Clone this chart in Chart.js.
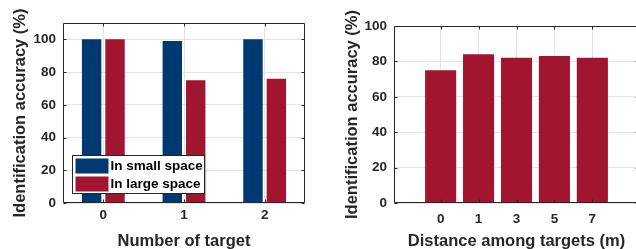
<!DOCTYPE html>
<html>
<head>
<meta charset="utf-8">
<script src="https://cdn.jsdelivr.net/npm/chart.js@4.4.1/dist/chart.umd.min.js"></script>
<style>
  html, body { margin: 0; padding: 0; background: #fff; overflow: hidden; }
  .box { position: absolute; top: 0; height: 249px; }
</style>
</head>
<body>
<div class="box" style="left:0;width:318px"><canvas id="targetChart"></canvas></div>
<div class="box" style="left:318px;width:322px"><canvas id="distChart"></canvas></div>
<script>
// left chart data
const targetLabels = ['0', '1', '2'];
const smallSpace = [100, 99, 100];
const largeSpace = [100, 75, 76];
// right chart data
const distLabels = ['0', '1', '3', '5', '7'];
const distAcc = [75, 84, 82, 83, 82];
const yTicks = [0, 20, 40, 60, 80, 100];

const BLUE = 'rgb(0,57,114)';
const RED = 'rgb(162,21,48)';
const INK = '#262626';
const GRID = '#e4e4e4';
const FONT = "'Liberation Sans', Arial, sans-serif";

// MATLAB-ish box with inward ticks
const frame = {
  id: 'frame',
  afterDatasetsDraw(chart) {
    const { ctx, chartArea: a, scales: { x, y } } = chart;
    const L = Math.round(a.left) + 0.5, R = Math.round(a.right) - 0.5;
    const T = Math.round(a.top) + 0.5, B = Math.round(a.bottom) - 0.5;
    ctx.save();
    ctx.strokeStyle = INK;
    ctx.lineWidth = 1;
    ctx.beginPath();
    ctx.rect(L, T, R - L, B - T);
    x.ticks.forEach((t, i) => {
      const px = Math.round(x.getPixelForTick(i)) + 0.5;
      ctx.moveTo(px, T); ctx.lineTo(px, T + 3);
      ctx.moveTo(px, B); ctx.lineTo(px, B - 3);
    });
    y.ticks.forEach((t, i) => {
      const py = Math.round(y.getPixelForTick(i)) + 0.5;
      ctx.moveTo(L, py); ctx.lineTo(L + 3, py);
      ctx.moveTo(R, py); ctx.lineTo(R - 3, py);
    });
    ctx.stroke();
    ctx.restore();
  }
};

// legend drawn inside the plot, bottom-left
const boxLegend = {
  id: 'boxLegend',
  afterDraw(chart) {
    if (!chart.options.plugins.boxLegend) return;
    const { ctx, chartArea: a } = chart;
    const x0 = a.left + 9.5, y0 = a.bottom - 47.5;
    ctx.save();
    ctx.fillStyle = '#fff';
    ctx.fillRect(x0, y0, 132, 38);
    ctx.strokeStyle = INK;
    ctx.lineWidth = 1;
    ctx.strokeRect(x0, y0, 132, 38);
    ctx.font = 'bold 13.5px ' + FONT;
    ctx.textBaseline = 'middle';
    chart.data.datasets.forEach((ds, i) => {
      const ry = y0 + 3 + i * 18;
      ctx.fillStyle = ds.backgroundColor;
      ctx.fillRect(x0 + 3, ry, 33, 15);
      ctx.fillStyle = '#000';
      ctx.fillText(ds.label, x0 + 38, ry + 8);
    });
    ctx.restore();
  }
};

function yScale(max, titlePad, width) {
  return {
    min: 0, max: max,
    afterBuildTicks: s => { s.ticks = yTicks.map(v => ({ value: v })); },
    afterFit: s => { s.width = width; },
    grid: { color: GRID, drawTicks: false },
    border: { display: false },
    ticks: { color: INK, padding: 7, font: { family: FONT, size: 13.5, weight: 'bold' } },
    title: {
      display: true, text: 'Identification accuracy (%)', color: INK,
      font: { family: FONT, size: 16.5, weight: 'bold' }, padding: { top: titlePad, bottom: 0 }
    }
  };
}

new Chart(document.getElementById('targetChart'), {
  type: 'bar',
  data: {
    labels: targetLabels,
    datasets: [
      { label: 'In small space', data: smallSpace, backgroundColor: BLUE, categoryPercentage: 0.58, barPercentage: 0.83 },
      { label: 'In large space', data: largeSpace, backgroundColor: RED, categoryPercentage: 0.58, barPercentage: 0.83 }
    ]
  },
  options: {
    responsive: true, maintainAspectRatio: false, animation: false,
    layout: { padding: { left: 0, top: 23, right: 13, bottom: 0 } },
    plugins: { legend: { display: false }, tooltip: { enabled: false }, boxLegend: true },
    scales: {
      x: {
        afterFit: s => { s.height = 46; },
        grid: { color: GRID, drawTicks: false, offset: false },
        border: { display: false },
        ticks: { color: INK, padding: 4, font: { family: FONT, size: 13.5, weight: 'bold' } },
        title: {
          display: true, text: 'Number of target', color: INK,
          font: { family: FONT, size: 16.5, weight: 'bold' }, padding: { top: 0, bottom: -2 }
        }
      },
      y: yScale(110, 11, 63)
    }
  },
  plugins: [frame, boxLegend]
});

new Chart(document.getElementById('distChart'), {
  type: 'bar',
  data: {
    datasets: [
      { label: 'Accuracy', data: distAcc.map((v, i) => ({ x: i, y: v })), backgroundColor: RED, categoryPercentage: 1, barPercentage: 0.82 }
    ]
  },
  options: {
    responsive: true, maintainAspectRatio: false, animation: false,
    layout: { padding: { left: 0, top: 26, right: 1, bottom: 0 } },
    plugins: { legend: { display: false }, tooltip: { enabled: false } },
    scales: {
      x: {
        type: 'linear', min: -1.23, max: 5.23, offset: false,
        afterBuildTicks: s => { s.ticks = distLabels.map((l, i) => ({ value: i })); },
        afterFit: s => { s.height = 46; },
        grid: { color: GRID, drawTicks: false, offset: false },
        border: { display: false },
        ticks: { color: INK, padding: 8, font: { family: FONT, size: 13.5, weight: 'bold' }, callback: v => distLabels[v] },
        title: {
          display: true, text: 'Distance among targets (m)', color: INK,
          font: { family: FONT, size: 16.5, weight: 'bold' }, padding: { top: 0, bottom: -2 }
        }
      },
      y: yScale(100, 25, 76)
    }
  },
  plugins: [frame]
});
</script>
</body>
</html>
